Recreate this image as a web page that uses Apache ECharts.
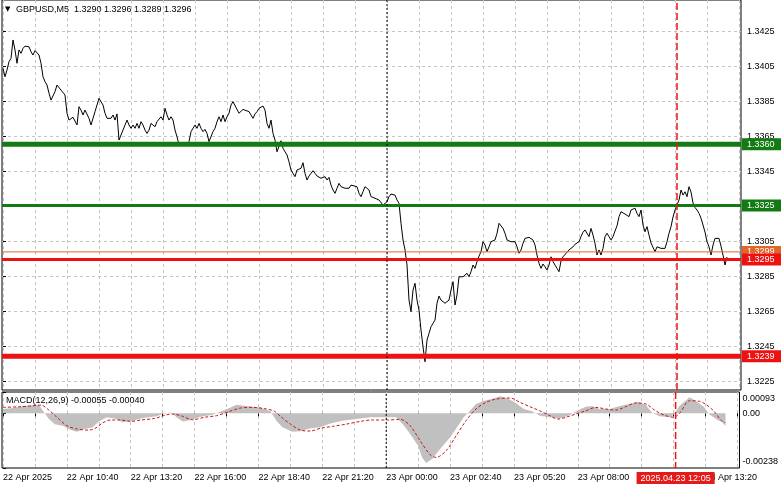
<!DOCTYPE html>
<html><head><meta charset="utf-8">
<script src="https://cdn.jsdelivr.net/npm/echarts@6/dist/echarts.min.js"></script>
<style>html,body{margin:0;padding:0;background:#fff}#c{width:781px;height:489px}</style>
</head><body><div id="c"></div>
<script>
// ---- DATA ----
const barIndex = [
0,1,2,3,4,5,6,7,8,9,
10,11,13,14,15,16,17,18,19,20,
21,22,23,24,25,26,27,28,29,30,
31,32,33,34,35,36,37,38,39,40,
41,42,43,44,45,46,47,48,49,50,
51,52,53,54,55,56,57,58,59,60,
61,62,63,64,65,66,67,68,69,70,
71,72,73,74,75,76,77,78,79,80,
81,82,83,84,85,86,87,88,89,90,
91,92,93,94,96,97,98,99,100,101,
102,103,104,105,106,107,108,109,110,111,
112,113,114,115,116,118,119,120,121,123,
124,125,126,127,128,129,130,131,132,133,
134,135,136,137,138,139,140,141,142,143,
144,145,146,147,148,149,150,151,152,153,
155,156,157,158,159,161,162,163,164,165,
166,167,168,169,171,172,173,174,175,177,
178,179,180,181,183,184,185,186,188,189,
190,191,192,193,194,195,196,197,198,199,
200,201,202,203,204,205,206,207,208,209,
210,211,212,213,214,215,216,217,218,219,
221,222,223,224,225,226,227,228,229,230,
231,232,233,234,235,236,237,238,239,240,
241,242,243,244,245,246,247,248,249,250,
251,252,253,254,255,256,257,258,259,260,
261,262,263,264,265,266,267,268,269,270,
271,272,273,274,275,276,277,278,279,280,
282,283,285,286,288,289,290,291,292,293,
294,295,296,297,298,299,300,301,302,303,
304,305,306,307,308,309,310,311,312,313,
314,315,316,317,318,319,320,321,322,323,
324,325,326,327,328,329,330,331,332,333,
334,335,336,337,338,339,340,341,342,343,
344,345,346,347,348,349,350,351,352,353,
354,355,356,357,358,359,360,361,362
];
const closePrice = [
1.34037,1.33989,1.34028,1.34075,1.34094,1.34199,1.34142,1.34066,1.34142,1.34123,
1.34151,1.34164,1.34160,1.34132,1.34113,1.34138,1.34142,1.34113,1.34066,1.33989,
1.33961,1.33942,1.33895,1.33856,1.33856,1.33904,1.33942,1.33948,1.33913,1.33923,
1.33885,1.33781,1.33742,1.33752,1.33758,1.33752,1.33714,1.33818,1.33799,1.33771,
1.33799,1.33790,1.33752,1.33714,1.33704,1.33790,1.33799,1.33866,1.33856,1.33828,
1.33781,1.33752,1.33761,1.33752,1.33771,1.33742,1.33777,1.33628,1.33657,1.33685,
1.33676,1.33742,1.33714,1.33695,1.33714,1.33695,1.33723,1.33695,1.33733,1.33714,
1.33685,1.33666,1.33685,1.33723,1.33720,1.33704,1.33733,1.33742,1.33761,1.33742,
1.33809,1.33771,1.33742,1.33761,1.33742,1.33685,1.33647,1.33600,1.33609,1.33600,
1.33613,1.33594,1.33619,1.33676,1.33714,1.33695,1.33723,1.33695,1.33676,1.33689,
1.33666,1.33619,1.33628,1.33676,1.33695,1.33733,1.33761,1.33733,1.33771,1.33733,
1.33761,1.33781,1.33828,1.33847,1.33856,1.33781,1.33790,1.33803,1.33799,1.33790,
1.33771,1.33752,1.33777,1.33790,1.33809,1.33809,1.33822,1.33799,1.33723,1.33695,
1.33742,1.33666,1.33628,1.33561,1.33571,1.33624,1.33581,1.33571,1.33543,1.33504,
1.33457,1.33438,1.33419,1.33457,1.33447,1.33467,1.33499,1.33438,1.33400,1.33423,
1.33453,1.33438,1.33423,1.33429,1.33410,1.33419,1.33400,1.33415,1.33371,1.33343,
1.33324,1.33353,1.33381,1.33362,1.33353,1.33356,1.33353,1.33371,1.33381,1.33362,
1.33324,1.33305,1.33333,1.33362,1.33343,1.33305,1.33296,1.33296,1.33286,1.33276,
1.33257,1.33248,1.33276,1.33305,1.33320,1.33324,1.33314,1.33286,1.33267,1.33153,
1.33058,1.33001,1.32915,1.32715,1.32649,1.32772,1.32811,1.32715,1.32658,1.32544,
1.32449,1.32363,1.32487,1.32525,1.32563,1.32554,1.32601,1.32697,1.32738,1.32715,
1.32697,1.32693,1.32715,1.32772,1.32820,1.32687,1.32744,1.32848,1.32839,1.32848,
1.32858,1.32868,1.32848,1.32877,1.32915,1.32896,1.32934,1.32966,1.32991,1.33048,
1.33029,1.32991,1.33019,1.33048,1.33048,1.33058,1.33096,1.33153,1.33143,1.33124,
1.33096,1.33058,1.33067,1.33048,1.33039,1.33048,1.33019,1.32982,1.33001,1.33039,
1.33067,1.33073,1.33073,1.33067,1.33058,1.33029,1.32972,1.32925,1.32896,1.32921,
1.32905,1.32887,1.32915,1.32962,1.32934,1.32915,1.32896,1.32877,1.32938,1.32962,
1.32988,1.33001,1.33019,1.33033,1.33048,1.33077,1.33102,1.33115,1.33105,1.33077,
1.33124,1.33086,1.33039,1.32972,1.33001,1.32972,1.33010,1.33077,1.33096,1.33077,
1.33058,1.33077,1.33109,1.33138,1.33191,1.33219,1.33229,1.33206,1.33217,1.33191,
1.33229,1.33235,1.33239,1.33210,1.33191,1.33229,1.33143,1.33105,1.33134,1.33086,
1.33041,1.33039,1.32991,1.33019,1.33010,1.33010,1.33019,1.33010,1.33048,1.33096,
1.33134,1.33189,1.33229,1.33257,1.33286,1.33343,1.33314,1.33333,1.33305,1.33362,
1.33332,1.33269,1.33243,1.33229,1.33210,1.33182,1.33143,1.33103,1.33048,1.33019,
1.32972,1.33029,1.33067,1.33077,1.33067,1.33023,1.32972,1.32915,1.32961
];
const histBars = [0,5,10,15,18,20,23,26,30,34,37,41,45,48,52,56,60,65,70,77,80,84,87,90,94,99,105,110,114,117,122,129,134,137,140,145,149,154,159,164,170,177,184,192,197,201,204,208,210,212,215,219,224,228,231,234,237,241,245,249,253,257,261,265,269,274,279,284,288,292,295,299,304,309,314,318,322,325,329,334,336,339,344,347,351,354,358,360,362];
const macdHist = [0.00019,0.00023,0.00032,0.00035,0.00037,0.00011,-0.00025,-0.00047,-0.00054,-0.00073,-0.00080,-0.00068,-0.00061,-0.00035,-0.00017,-0.00022,-0.00039,-0.00032,-0.00020,-0.00013,-0.00003,0.00004,-0.00017,-0.00035,-0.00029,-0.00015,-0.00006,0.00011,0.00026,0.00037,0.00032,0.00026,0.00009,-0.00032,-0.00061,-0.00080,-0.00078,-0.00065,-0.00061,-0.00044,-0.00032,-0.00025,-0.00017,-0.00017,-0.00017,-0.00054,-0.00090,-0.00141,-0.00192,-0.00216,-0.00199,-0.00155,-0.00105,-0.00054,-0.00015,0.00011,0.00041,0.00055,0.00062,0.00074,0.00065,0.00044,0.00019,0.00009,-0.00010,-0.00017,-0.00022,-0.00007,0.00014,0.00029,0.00032,0.00019,0.00019,0.00032,0.00041,0.00051,0.00037,0.00004,-0.00013,-0.00017,-0.00006,0.00033,0.00070,0.00055,0.00030,-0.00005,-0.00029,-0.00037,-0.00055];
const signalBars = [0,9,15,19,23,27,32,37,43,47,50,54,59,64,69,76,82,85,90,95,101,107,113,119,125,132,136,139,144,149,154,159,165,172,179,185,193,199,204,209,214,217,222,227,232,237,242,247,254,259,264,269,274,278,282,287,292,297,302,307,312,317,322,327,332,336,339,344,349,352,356,360,362];
const macdSignal = [0.00026,0.00029,0.00033,0.00036,0.00014,-0.00017,-0.00054,-0.00068,-0.00073,-0.00061,-0.00041,-0.00029,-0.00029,-0.00035,-0.00029,-0.00022,-0.00006,-0.00003,-0.00013,-0.00028,-0.00017,-0.00010,0.00007,0.00023,0.00026,0.00019,0.00009,-0.00013,-0.00047,-0.00073,-0.00077,-0.00065,-0.00057,-0.00047,-0.00035,-0.00029,-0.00029,-0.00026,-0.00054,-0.00119,-0.00180,-0.00192,-0.00163,-0.00098,-0.00032,0.00019,0.00048,0.00062,0.00067,0.00048,0.00029,0.00011,-0.00010,-0.00025,-0.00017,-0.00003,0.00011,0.00026,0.00019,0.00014,0.00029,0.00045,0.00041,0.00011,-0.00010,-0.00017,0.00000,0.00055,0.00052,0.00040,0.00011,-0.00032,-0.00040];
const priceTicks = [1.3225,1.3245,1.3265,1.3285,1.3305,1.3325,1.3345,1.3365,1.3385,1.3405,1.3425];
const macdTicks = [-0.00238,0,0.00093];
const gridBars = [0,16,32,48,64,80,96,112,128,144,160,176,192,208,224,240,256,272,288,304,320,336,352,368];
const timeTickBars = [0,32,64,96,128,160,192,224,256,288,320,352];
const timeTickLabels = ['22 Apr 2025','22 Apr 10:40','22 Apr 13:20','22 Apr 16:00','22 Apr 18:40','22 Apr 21:20','23 Apr 00:00','23 Apr 02:40','23 Apr 05:20','23 Apr 08:00','23 Apr 10:40','23 Apr 13:20'];
const levelPrices = [1.33604, 1.33254, 1.32990, 1.32946, 1.32394];
const daySeparatorBar = 192;
const cursorBar = 337;
const cursorLabel = '2025.04.23 12:05';
const titleText = 'GBPUSD,M5  1.3290 1.3296 1.3289 1.3296';
const macdTitle = 'MACD(12,26,9) -0.00055 -0.00040';

// ---- CHART ----
const FONT = 'Liberation Sans';
const GREEN = '#137b13', RED = '#ee1111', ORANGE = '#e0662a', CURSOR = '#f01010';
const X_MIN = -0.5, X_MAX = 369;
const P_MIN = 1.32202, P_MAX = 1.34427;
const M_MIN = -0.00238, M_MAX = 0.00093;
const gridLine = {show:true, lineStyle:{color:'#c4c4c4', type:[3,3], width:1}};
const chart = echarts.init(document.getElementById('c'), null, {renderer:'canvas'});
function levelSeries(v, color, width, z){
  return {type:'line', xAxisIndex:0, yAxisIndex:0, showSymbol:false, symbol:'none', silent:true, z:z,
    data:[[X_MIN, v],[X_MAX, v]],
    lineStyle:{color:color, width:width, type:'solid'},
    endLabel:{show:true, distance:1, formatter:()=>v.toFixed(4), color:'#fff',
      backgroundColor:color, padding:[1,12,0,5], fontSize:9, fontFamily:FONT, lineHeight:11}};
}
const option = {
  animation:false,
  backgroundColor:'#fff',
  title:[
    {text:'{a|▼} '+titleText, left:5, top:5, padding:0,
     textStyle:{fontSize:9, fontWeight:'normal', color:'#000', fontFamily:FONT,
       rich:{a:{fontSize:7, color:'#000', fontFamily:'DejaVu Sans', padding:[0,3,0,0]}}}},
    {text:macdTitle, left:6, top:396, padding:0,
     textStyle:{fontSize:9, fontWeight:'normal', color:'#000', fontFamily:FONT}}
  ],
  grid:[
    {left:2, right:40, top:0, height:390, show:true, borderColor:'#000', borderWidth:1, backgroundColor:'#fff'},
    {left:2, right:40, top:392, height:76, show:true, borderColor:'#000', borderWidth:1, backgroundColor:'#fff'}
  ],
  xAxis:[
    {type:'value', gridIndex:0, min:X_MIN, max:X_MAX, axisLine:{show:false},
     axisTick:{show:false, customValues:gridBars}, axisLabel:{show:false, customValues:timeTickBars},
     splitLine:gridLine},
    {type:'value', gridIndex:1, min:X_MIN, max:X_MAX, axisLine:{show:false},
     axisTick:{show:true, length:3, customValues:gridBars, lineStyle:{color:'#000'}},
     axisLabel:{show:true, customValues:timeTickBars, align:'left', margin:5, color:'#000', fontSize:9, fontFamily:FONT,
       formatter:(v)=>{const i=timeTickBars.indexOf(Math.round(v)); return i>=0?timeTickLabels[i]:'';}},
     splitLine:gridLine}
  ],
  yAxis:[
    {type:'value', gridIndex:0, position:'right', min:P_MIN, max:P_MAX, axisLine:{show:false},
     axisTick:{show:true, length:3, customValues:priceTicks, lineStyle:{color:'#000'}},
     axisLabel:{customValues:priceTicks, formatter:(v)=>v.toFixed(4), color:'#000', fontSize:9, fontFamily:FONT, margin:6},
     splitLine:gridLine},
    {type:'value', gridIndex:1, position:'right', min:M_MIN, max:M_MAX, axisLine:{show:false},
     axisTick:{show:true, length:3, customValues:macdTicks, lineStyle:{color:'#000'}},
     axisLabel:{customValues:macdTicks, color:'#000', fontSize:9, fontFamily:FONT, margin:3,
       formatter:(v)=>{ if (v===0) return '0.00'; return v>0 ? '{t|'+v.toFixed(5)+'}' : '{b|'+v.toFixed(5)+'}'; },
       rich:{t:{padding:[13,0,0,0], fontSize:9, fontFamily:FONT, color:'#000'}, b:{padding:[0,0,13,0], fontSize:9, fontFamily:FONT, color:'#000'}}},
     splitLine:{show:false}}
  ],
  series:[
    {type:'line', name:'hist', xAxisIndex:1, yAxisIndex:1, showSymbol:false, symbol:'none',
     data:histBars.map((b,i)=>[b, macdHist[i]]),
     lineStyle:{width:0, color:'#c0c0c0'}, areaStyle:{color:'#c0c0c0', opacity:1}, z:2},
    {type:'line', name:'signal', xAxisIndex:1, yAxisIndex:1, showSymbol:false, symbol:'none',
     data:signalBars.map((b,i)=>[b, macdSignal[i]]), smooth:0.3,
     lineStyle:{width:1, color:'#c81818', type:[3,2]}, z:3},
    {type:'line', name:'price', xAxisIndex:0, yAxisIndex:0, showSymbol:false, symbol:'none',
     data:barIndex.map((b,i)=>[b, closePrice[i]]),
     lineStyle:{width:1, color:'#000'}, z:3},
    {type:'line', name:'daySepMain', xAxisIndex:0, yAxisIndex:0, showSymbol:false, symbol:'none', silent:true, z:6,
     data:[[daySeparatorBar, P_MIN],[daySeparatorBar, P_MAX]], lineStyle:{color:'#000', width:1, type:[2,2]}},
    {type:'line', name:'daySepMacd', xAxisIndex:1, yAxisIndex:1, showSymbol:false, symbol:'none', silent:true, z:6,
     data:[[daySeparatorBar, M_MIN],[daySeparatorBar, M_MAX]], lineStyle:{color:'#000', width:1, type:[2,2]}},
    {type:'line', name:'cursorMain', xAxisIndex:0, yAxisIndex:0, showSymbol:false, symbol:'none', silent:true, z:6,
     data:[[cursorBar, P_MIN],[cursorBar, P_MAX]], lineStyle:{color:CURSOR, width:1.5, type:[7,3]}},
    {type:'line', name:'cursorMacd', xAxisIndex:1, yAxisIndex:1, showSymbol:false, symbol:'none', silent:true, z:7,
     data:[[cursorBar, M_MAX],[cursorBar, M_MIN]], lineStyle:{color:CURSOR, width:1.5, type:[7,3]},
     endLabel:{show:true, formatter:cursorLabel, align:'center', verticalAlign:'top', distance:0, offset:[0,4],
       color:'#fff', backgroundColor:'#e41b1b', padding:[1,4,0,4], fontSize:9, fontFamily:FONT, lineHeight:11}},
    levelSeries(levelPrices[0], GREEN, 5, 4),
    levelSeries(levelPrices[1], GREEN, 3, 4),
    levelSeries(levelPrices[2], ORANGE, 1, 4),
    levelSeries(levelPrices[3], RED, 3, 5),
    levelSeries(levelPrices[4], RED, 5, 5)
  ]
};
chart.setOption(option);
</script>
</body></html>
